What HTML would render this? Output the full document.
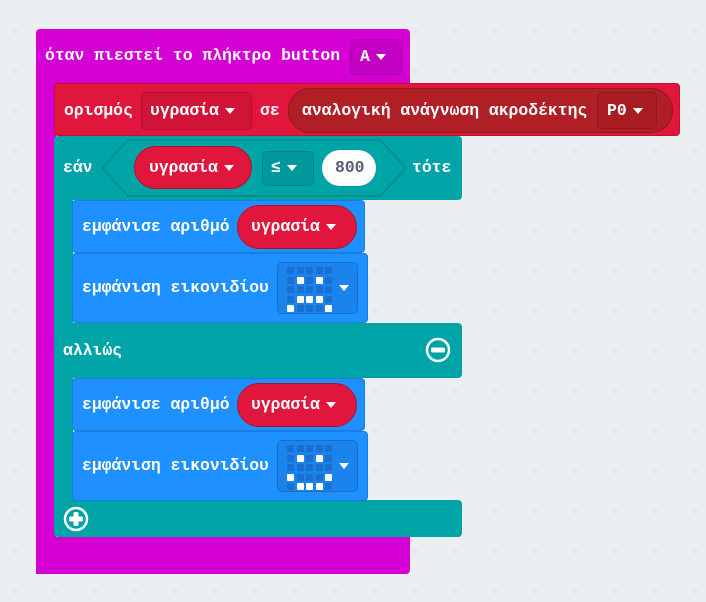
<!DOCTYPE html>
<html><head><meta charset="utf-8"><style>
body{margin:0;width:706px;height:602px;background:#eceff1;position:relative;overflow:hidden;font-family:"Liberation Mono","DejaVu Sans Mono",monospace;font-weight:bold;font-size:16.4px;color:#fff}
.a{position:absolute;box-sizing:border-box}
.t{position:absolute;white-space:nowrap;line-height:20px}
.dd{position:absolute;box-sizing:border-box;border-radius:5px;border:1px solid rgba(0,0,0,.15)}
.tri{display:inline-block;width:0;height:0;border-left:5px solid transparent;border-right:5px solid transparent;border-top:6px solid #fff;vertical-align:middle;margin-left:6px}
.pill{position:absolute;box-sizing:border-box;border-radius:22px}
.m{position:absolute;display:grid;grid-template-columns:repeat(5,7px);grid-auto-rows:7px;gap:2.5px}
.m i{width:7px;height:7px;background:#1a6fd0;border-radius:1px}
.m i.w{background:#fff}
</style></head><body>
<svg class="a" style="left:0;top:0" width="706" height="602"><defs><pattern id="g" x="10" y="26" width="40" height="40" patternUnits="userSpaceOnUse"><path d="M1 5H9M5 1V9" stroke="#e0e3e6" stroke-width="1"/></pattern></defs><rect width="706" height="602" fill="url(#g)"/></svg>

<div class="a" style="left:36px;top:29px;width:374px;height:56px;background:#d400d4;border-radius:4px 4px 0 0"></div>
<div class="a" style="left:36px;top:80px;width:20px;height:494px;background:#d400d4"></div>
<div class="a" style="left:36px;top:537px;width:374px;height:37px;background:#d400d4;border-radius:0 0 4px 4px"></div>
<div class="t" style="left:45px;top:46px">όταν πιεστεί το πλήκτρο button</div>
<div class="dd" style="left:350px;top:39px;width:52px;height:36px;background:#c400c4"></div>
<div class="t" style="left:360px;top:47px">A<span class="tri"></span></div>

<div class="a" style="left:54px;top:83px;width:626px;height:53px;background:#e0163c;border-radius:4px;border:1px solid #c01234"></div>
<div class="t" style="left:64px;top:101px">ορισμός</div>
<div class="dd" style="left:141px;top:92px;width:111px;height:38px;background:#d01438"></div>
<div class="t" style="left:150px;top:101px">υγρασία<span class="tri"></span></div>
<div class="t" style="left:260px;top:101px">σε</div>
<div class="pill" style="left:288px;top:88px;width:385px;height:45px;background:#b01f25;border:1px solid #90181d"></div>
<div class="t" style="left:302px;top:101px">αναλογική ανάγνωση ακροδέκτης</div>
<div class="dd" style="left:597px;top:92px;width:60px;height:37px;background:#a81d22"></div>
<div class="t" style="left:607px;top:101px">P0<span class="tri"></span></div>

<div class="a" style="left:54px;top:136px;width:408px;height:64px;background:#00a4a6;border-radius:4px 4px 4px 0"></div>
<div class="a" style="left:54px;top:190px;width:19px;height:340px;background:#00a4a6"></div>
<div class="a" style="left:54px;top:323px;width:408px;height:55px;background:#00a4a6;border-radius:0 4px 4px 0"></div>
<div class="a" style="left:54px;top:500px;width:408px;height:37px;background:#00a4a6;border-radius:0 4px 4px 4px"></div>
<svg class="a" style="left:100px;top:138px" width="310" height="60"><path d="M28 2H280L306 30L280 58H28L2 30Z" fill="#00a4a6" stroke="#008a8c" stroke-width="1.5"/></svg>
<div class="t" style="left:63px;top:158px">εάν</div>
<div class="pill" style="left:134px;top:146px;width:118px;height:43px;background:#e0163c;border:1px solid #b01030"></div>
<div class="t" style="left:149px;top:158px">υγρασία<span class="tri"></span></div>
<div class="dd" style="left:262px;top:151px;width:52px;height:35px;background:#00999b"></div>
<div class="t" style="left:271px;top:158px">≤<span class="tri"></span></div>
<div class="pill" style="left:322px;top:150px;width:54px;height:36px;background:#fff"></div>
<div class="t" style="left:335px;top:158px;color:#575e75">800</div>
<div class="t" style="left:412px;top:158px">τότε</div>

<div class="a" style="left:72px;top:200px;width:293px;height:53px;background:#1e90ff;border-radius:4px;border:1px solid #1a7ee0"></div>
<div class="t" style="left:82px;top:217px">εμφάνισε αριθμό</div>
<div class="pill" style="left:237px;top:205px;width:120px;height:44px;background:#e0163c;border:1px solid #b01030"></div>
<div class="t" style="left:251px;top:217px">υγρασία<span class="tri"></span></div>
<div class="a" style="left:72px;top:253px;width:296px;height:70px;background:#1e90ff;border-radius:4px;border:1px solid #1a7ee0"></div>
<div class="t" style="left:82px;top:278px">εμφάνιση εικονιδίου</div>
<div class="dd" style="left:277px;top:262px;width:81px;height:52px;background:#1a84ec"></div>
<div class="m" style="left:287px;top:267px"><i></i><i></i><i></i><i></i><i></i><i></i><i class="w"></i><i></i><i class="w"></i><i></i><i></i><i></i><i></i><i></i><i></i><i></i><i class="w"></i><i class="w"></i><i class="w"></i><i></i><i class="w"></i><i></i><i></i><i></i><i class="w"></i></div>
<div class="t" style="left:333px;top:278px"><span class="tri"></span></div>

<div class="t" style="left:63px;top:341px">αλλιώς</div>
<svg class="a" style="left:425px;top:337px" width="26" height="26"><circle cx="13" cy="13" r="11" fill="none" stroke="#fff" stroke-width="2.5"/><rect x="6" y="10.5" width="14" height="5" rx="1.5" fill="#fff"/></svg>

<div class="a" style="left:72px;top:378px;width:293px;height:53px;background:#1e90ff;border-radius:4px;border:1px solid #1a7ee0"></div>
<div class="t" style="left:82px;top:395px">εμφάνισε αριθμό</div>
<div class="pill" style="left:237px;top:383px;width:120px;height:44px;background:#e0163c;border:1px solid #b01030"></div>
<div class="t" style="left:251px;top:395px">υγρασία<span class="tri"></span></div>
<div class="a" style="left:72px;top:431px;width:296px;height:70px;background:#1e90ff;border-radius:4px;border:1px solid #1a7ee0"></div>
<div class="t" style="left:82px;top:456px">εμφάνιση εικονιδίου</div>
<div class="dd" style="left:277px;top:440px;width:81px;height:52px;background:#1a84ec"></div>
<div class="m" style="left:287px;top:445px"><i></i><i></i><i></i><i></i><i></i><i></i><i class="w"></i><i></i><i class="w"></i><i></i><i></i><i></i><i></i><i></i><i></i><i class="w"></i><i></i><i></i><i></i><i class="w"></i><i></i><i class="w"></i><i class="w"></i><i class="w"></i><i></i></div>
<div class="t" style="left:333px;top:456px"><span class="tri"></span></div>

<svg class="a" style="left:63px;top:506px" width="26" height="26"><circle cx="13" cy="13" r="11" fill="none" stroke="#fff" stroke-width="2.5"/><rect x="6" y="10.5" width="14" height="5" rx="1.5" fill="#fff"/><rect x="10.5" y="6" width="5" height="14" rx="1.5" fill="#fff"/></svg>
</body></html>
